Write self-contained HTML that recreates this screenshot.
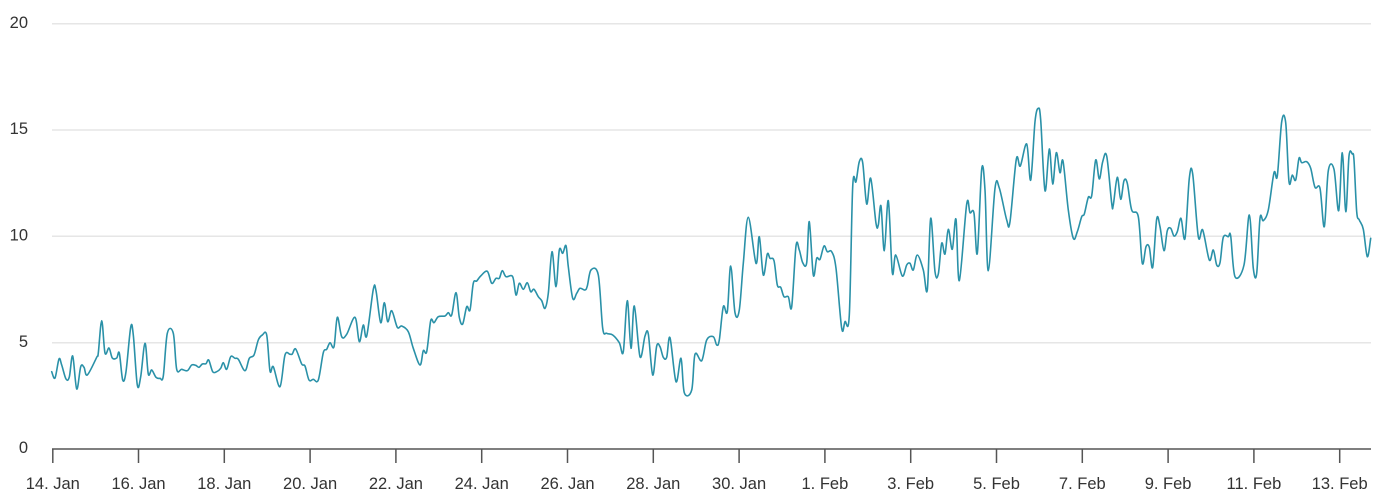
<!DOCTYPE html>
<html>
<head>
<meta charset="utf-8">
<style>
  html,body{margin:0;padding:0;background:#fff;}
  svg{display:block;}
  text{font-family:"Liberation Sans",Arial,sans-serif;fill:#333;}
</style>
</head>
<body>
<svg id="chart" width="1383" height="502" viewBox="0 0 1383 502" xmlns="http://www.w3.org/2000/svg">
  <!-- gridlines -->
  <g stroke="#e6e6e6" stroke-width="1.5">
    <line x1="52" y1="342.7" x2="1371" y2="342.7"/>
    <line x1="52" y1="236.3" x2="1371" y2="236.3"/>
    <line x1="52" y1="130" x2="1371" y2="130"/>
    <line x1="52" y1="23.7" x2="1371" y2="23.7"/>
  </g>
  <!-- y labels -->
  <g font-size="16.5" text-anchor="end">
    <text x="28" y="453">0</text>
    <text x="28" y="347">5</text>
    <text x="28" y="240.5">10</text>
    <text x="28" y="134">15</text>
    <text x="28" y="28">20</text>
  </g>
  <!-- x axis -->
  <line x1="52" y1="449" x2="1371" y2="449" stroke="#555" stroke-width="1.5"/>
  <g stroke="#555" stroke-width="1.5">
    <line x1="52.8" y1="449" x2="52.8" y2="463"/>
    <line x1="138.5" y1="449" x2="138.5" y2="463"/>
    <line x1="224.3" y1="449" x2="224.3" y2="463"/>
    <line x1="310.1" y1="449" x2="310.1" y2="463"/>
    <line x1="395.9" y1="449" x2="395.9" y2="463"/>
    <line x1="481.7" y1="449" x2="481.7" y2="463"/>
    <line x1="567.5" y1="449" x2="567.5" y2="463"/>
    <line x1="653.3" y1="449" x2="653.3" y2="463"/>
    <line x1="739.1" y1="449" x2="739.1" y2="463"/>
    <line x1="824.9" y1="449" x2="824.9" y2="463"/>
    <line x1="910.7" y1="449" x2="910.7" y2="463"/>
    <line x1="996.5" y1="449" x2="996.5" y2="463"/>
    <line x1="1082.3" y1="449" x2="1082.3" y2="463"/>
    <line x1="1168.1" y1="449" x2="1168.1" y2="463"/>
    <line x1="1253.9" y1="449" x2="1253.9" y2="463"/>
    <line x1="1339.7" y1="449" x2="1339.7" y2="463"/>
  </g>
  <g font-size="16.5" text-anchor="middle">
    <text x="52.8" y="489">14. Jan</text>
    <text x="138.5" y="489">16. Jan</text>
    <text x="224.3" y="489">18. Jan</text>
    <text x="310.1" y="489">20. Jan</text>
    <text x="395.9" y="489">22. Jan</text>
    <text x="481.7" y="489">24. Jan</text>
    <text x="567.5" y="489">26. Jan</text>
    <text x="653.3" y="489">28. Jan</text>
    <text x="739.1" y="489">30. Jan</text>
    <text x="824.9" y="489">1. Feb</text>
    <text x="910.7" y="489">3. Feb</text>
    <text x="996.5" y="489">5. Feb</text>
    <text x="1082.3" y="489">7. Feb</text>
    <text x="1168.1" y="489">9. Feb</text>
    <text x="1253.9" y="489">11. Feb</text>
    <text x="1339.7" y="489">13. Feb</text>
  </g>
  <!-- series -->
  <polyline id="series" fill="none" stroke="#2a91a8" stroke-width="1.6" stroke-linejoin="round" stroke-linecap="round" points="
51.7,371.7 55,378 59,359 61.7,365 66,379 69.3,377 72.7,356 76.7,389 80.7,366.7 84,367.3 87.3,375 96.7,357.3 98.3,353 101.7,320.7 105,353 109,348 112.3,358 116.7,358 119.3,353 122.7,380 126,371.7 130.7,327.3 133.3,335 137.3,385 140.7,376.7 145,343.3 148.3,374 151.7,370 156,377.3 160,378.3 163.3,376 167.3,333.3 173.3,333.3 176.7,369.3 181.7,369.3 187.3,370.7 191.7,365 195.7,365.3 199,367.3 202.3,364 206,363.7 208.7,360 212.7,371.7 216.7,371.7 220.7,368.3 223.3,362.7 226.7,369.3 230.7,356.7 235,358.3 238.3,359.3 245,370.7 249.3,358.3 254,355 258.3,340 262.3,335 266.7,335 270,371 273.3,366.7 280,386.7 285,355 290,354.3 292.3,354 295.7,349 301.7,364 305,366 309,380 313.3,379.3 318.3,380 323.3,352.7 326.7,349.3 330,342.7 334,346.7 337.3,317.3 341.7,336.7 346.7,334.3 355,317.3 359.3,341.7 363.3,325 366.7,336 373.3,289.3 376,290.7 380.7,322.7 384.3,302.7 387.7,321.7 391.7,310.7 397.3,327.3 401.7,326 408.3,331.7 413.3,348.3 420,365 423.3,350.7 426.7,351.7 430.7,320.7 434,322.7 438.3,316.7 445,316 448.3,312.7 451.7,315 456,292.7 459.3,317.3 462.7,324 466.7,306.7 470,310 473.3,283.3 476.7,281 480.7,276 487.3,271.3 491.7,283.3 496,278.3 499.3,278.3 502.3,270.7 506,276.7 512.7,276.7 516,295 519.3,283.3 523.3,289.3 527.3,282.7 530.7,291.7 534,289.3 538.3,296.7 541.7,300.7 545,308.3 548.3,293.3 552,251.7 556,286.7 559.3,250 562.7,253.3 566,245.7 568.3,266.7 572.7,298.3 576.7,293.3 580,288.3 585,290 587.3,286 591,270 598.3,275 602.7,328.3 606.7,333.3 612.7,335 619.3,342.7 623.3,351.7 627.3,300.7 631,348.3 634.3,306 640,356.7 645,336 648.3,334 652.7,375 656.7,346 660,346.7 663.3,357.3 666.7,357.3 670,337.7 676,381.7 681,358.3 684.3,392.7 691.7,390 695,354.3 701.7,360.7 706.7,340 713.3,336.7 716.7,345 719.3,340 723.3,306.7 727.3,311.7 730.7,266 735,312.7 739.3,310 743.3,263.3 748.3,217.3 756,263.3 759.3,236.7 763.3,275 767.3,254 770,258.3 774,260.7 777.3,285 780.7,287.3 784,296.7 788.3,296.7 791.7,306.7 796,246 799.3,250 802.7,262.7 806.7,262.7 809.3,221.7 813.3,275 816.7,258.3 820,259.3 824,246 827.3,251.7 831.7,251.7 836,268.3 841.7,328.3 845,321.7 849.3,315 852.7,186.7 856,181.7 859.3,161.7 862.7,162.7 866.7,204 870.7,178.3 876,223.3 878.3,225 881,206 884.3,250.7 888.3,200.7 892.3,272.7 895.7,255 902.3,276 906.7,265 910,263.3 913.3,270 917.3,255 923.3,270 927.3,290 930.7,218.3 935,271.7 938.3,274 941.7,243.3 945,254 948.3,229.3 952.3,249.3 956,219.3 959.3,280.7 966.7,204 970,212.7 974,213.3 977.3,253.3 981.7,169.3 985,190 988.3,270.7 995,188.3 999.3,188 1006.7,220 1010,221.7 1016.3,159.3 1020.3,166 1026.7,144 1030.7,180 1035,121.7 1038.3,108.3 1040.7,120 1045,190.7 1049.3,149 1052.7,184 1056.3,152.7 1060,172.7 1063,161 1068.3,210 1073.3,238.3 1077.3,231.7 1081.7,216.7 1084.3,214 1088.3,197.3 1091.7,195.7 1095.7,160 1099.3,179 1102.7,161.7 1106.7,156 1111.7,203.3 1113.3,205 1117.3,177.3 1120.7,199.3 1124,180.7 1127.3,183.3 1131.7,210 1138.3,216.7 1142.3,263.3 1146,246.7 1149.3,247.3 1152.7,267.3 1156.7,219 1160,226.7 1164,250.7 1167.3,230.7 1170.7,228.3 1174,236 1177.3,231.7 1181,218.3 1185,238.3 1189.3,178.3 1192.7,174 1198.3,236.7 1202.7,230 1209.3,260 1213.3,250 1216.7,265 1220,262.7 1223.3,237.3 1228.3,236.7 1230.7,236 1235,276.7 1244,265 1249.3,215 1253.3,268.3 1256.7,273.3 1260,218.3 1263.3,220.7 1268.3,210 1274,172.7 1277.3,176 1281.7,121.7 1285.7,122.7 1289,181.7 1292.3,175 1295.7,180 1299,158.3 1301.7,162.7 1306.7,161.7 1310.7,168.3 1315,187.3 1320,188.3 1324.3,226.7 1328.3,170.7 1334,169.3 1338.7,210.7 1342.3,152.7 1345.8,211.7 1349,156 1352.3,154 1354,160 1356.7,211.7 1359.3,220 1363.3,229.3 1367.3,256.7 1370.7,238.3"/>
</svg>
<script>
(function(){
  try{
    var pl=document.getElementById('series');
    var raw=pl.getAttribute('points').trim().split(/\s+/);
    var p=raw.map(function(s){var a=s.split(',');return [parseFloat(a[0]),parseFloat(a[1])];});
    var d='M'+p[0][0]+','+p[0][1];
    for(var i=0;i<p.length-1;i++){
      var p0=p[i>0?i-1:i],p1=p[i],p2=p[i+1],p3=p[i+2<p.length?i+2:i+1];
      var c1x=p1[0]+(p2[0]-p0[0])/6,c1y=p1[1]+(p2[1]-p0[1])/6;
      var c2x=p2[0]-(p3[0]-p1[0])/6,c2y=p2[1]-(p3[1]-p1[1])/6;
      d+=' C'+c1x.toFixed(2)+','+c1y.toFixed(2)+' '+c2x.toFixed(2)+','+c2y.toFixed(2)+' '+p2[0]+','+p2[1];
    }
    var path=document.createElementNS('http://www.w3.org/2000/svg','path');
    path.setAttribute('d',d);
    path.setAttribute('fill','none');
    path.setAttribute('stroke','#2a91a8');
    path.setAttribute('stroke-width','1.6');
    path.setAttribute('stroke-linejoin','round');
    path.setAttribute('stroke-linecap','round');
    pl.parentNode.replaceChild(path,pl);
  }catch(e){}
})();
</script>
</body>
</html>
